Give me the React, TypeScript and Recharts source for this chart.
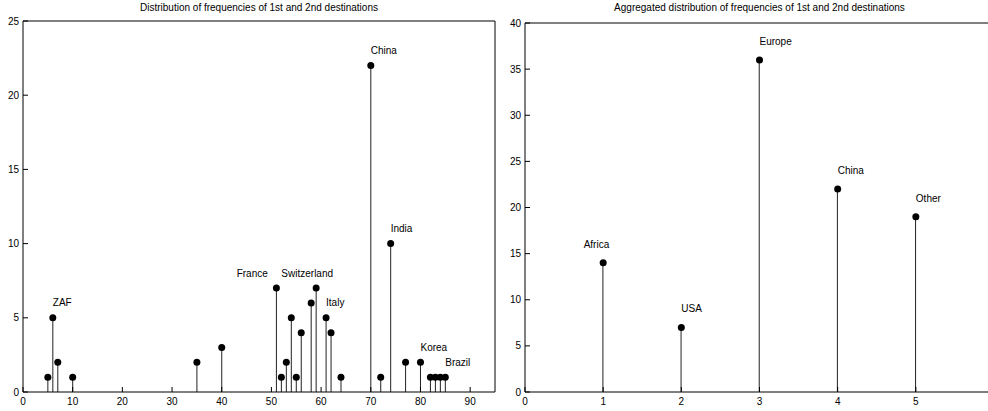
import { ComposedChart, Bar, Scatter, XAxis, YAxis } from "recharts";

// left panel: destination index vs frequency
const destX = [5, 6, 7, 10, 35, 40, 51, 52, 53, 54, 55, 56, 58, 59, 61, 62, 64, 70, 72, 74, 77, 80, 82, 83, 84, 85];
const destFreq = [1, 5, 2, 1, 2, 3, 7, 1, 2, 5, 1, 4, 6, 7, 5, 4, 1, 22, 1, 10, 2, 2, 1, 1, 1, 1];
const destNames = ["ZAF", "France", "Switzerland", "Italy", "China", "India", "Korea", "Brazil"];
const destNameX = [6, 43, 52, 61, 70, 74, 80, 85];
const destNameY = [6, 8, 8, 6, 23, 11, 3, 2];
const destXTicks = [0, 10, 20, 30, 40, 50, 60, 70, 80, 90];
const destYTicks = [0, 5, 10, 15, 20, 25];

// right panel: aggregated by region
const regionX = [1, 2, 3, 4, 5];
const regionFreq = [14, 7, 36, 22, 19];
const regionNames = ["Africa", "USA", "Europe", "China", "Other"];
const regionNameX = [0.75, 2, 3, 4, 5];
const regionNameY = [16, 9, 38, 24, 21];
const regionXTicks = [0, 1, 2, 3, 4, 5];
const regionYTicks = [0, 5, 10, 15, 20, 25, 30, 35, 40];

const FONT = "'Liberation Sans', Arial, sans-serif";
const tickStyle = { fontSize: 10, fill: "#000", fontFamily: FONT };
const axisLine = { stroke: "#000", strokeWidth: 1 };

const Dot = (p: any) => <circle cx={p.cx} cy={p.cy} r={3.5} fill="#000" />;
const Name = (p: any) => (
  <text x={p.cx} y={p.cy} dominantBaseline="central" fontSize={10} fontFamily={FONT} fill="#000">
    {p.payload.name}
  </text>
);

interface StemProps {
  xs: number[];
  ys: number[];
  names: string[];
  nameX: number[];
  nameY: number[];
  xDomain: [number, number];
  yDomain: [number, number];
  xTicks: number[];
  yTicks: number[];
  width: number;
  top: number;
  yAxisWidth: number;
}

function StemChart(props: StemProps) {
  const data = props.xs.map((x, i) => ({ x, y: props.ys[i] }));
  const labels = props.names.map((name, i) => ({ x: props.nameX[i], y: props.nameY[i], name }));
  return (
    <ComposedChart width={props.width} height={411} data={data} margin={{ top: props.top, right: 0, bottom: 0, left: 0 }}>
      <XAxis
        xAxisId="b"
        dataKey="x"
        type="number"
        domain={props.xDomain}
        ticks={props.xTicks}
        interval={0}
        height={19}
        tickSize={-5}
        tickMargin={11}
        tick={tickStyle}
        axisLine={axisLine}
        tickLine={axisLine}
        allowDataOverflow
      />
      <XAxis
        xAxisId="t"
        orientation="top"
        dataKey="x"
        type="number"
        domain={props.xDomain}
        ticks={props.xTicks}
        interval={0}
        height={1}
        tickSize={-5}
        tick={false}
        axisLine={axisLine}
        tickLine={axisLine}
        allowDataOverflow
      />
      <YAxis
        yAxisId="l"
        type="number"
        domain={props.yDomain}
        ticks={props.yTicks}
        interval={0}
        width={props.yAxisWidth}
        tickSize={-5}
        tickMargin={9}
        tick={tickStyle}
        axisLine={axisLine}
        tickLine={axisLine}
        allowDataOverflow
      />
      <YAxis
        yAxisId="r"
        orientation="right"
        type="number"
        domain={props.yDomain}
        ticks={props.yTicks}
        interval={0}
        width={1}
        tickSize={-5}
        tick={false}
        axisLine={axisLine}
        tickLine={axisLine}
        allowDataOverflow
      />
      <Bar xAxisId="b" yAxisId="l" dataKey="y" barSize={1} fill="#222" isAnimationActive={false} />
      <Scatter xAxisId="b" yAxisId="l" dataKey="y" shape={Dot} isAnimationActive={false} />
      <Scatter xAxisId="b" yAxisId="l" data={labels} dataKey="y" shape={Name} isAnimationActive={false} />
    </ComposedChart>
  );
}

const titleStyle: any = {
  position: "absolute",
  top: 2,
  fontSize: 10,
  lineHeight: "12px",
  fontFamily: FONT,
  textAlign: "center",
  color: "#000",
};

export default function App() {
  return (
    <div style={{ position: "fixed", left: 0, top: 0, width: 988, height: 411, overflow: "hidden", background: "#fff" }}>
      <div style={{ ...titleStyle, left: 23, width: 472 }}>Distribution of frequencies of 1st and 2nd destinations</div>
      <div style={{ ...titleStyle, left: 525, width: 469 }}>Aggregated distribution of frequencies of 1st and 2nd destinations</div>
      <div style={{ position: "absolute", left: 0, top: 0 }}>
        <StemChart
          xs={destX}
          ys={destFreq}
          names={destNames}
          nameX={destNameX}
          nameY={destNameY}
          xDomain={[0, 95]}
          yDomain={[0, 25]}
          xTicks={destXTicks}
          yTicks={destYTicks}
          width={496}
          top={20}
          yAxisWidth={23}
        />
      </div>
      <div style={{ position: "absolute", left: 500, top: 0 }}>
        <StemChart
          xs={regionX}
          ys={regionFreq}
          names={regionNames}
          nameX={regionNameX}
          nameY={regionNameY}
          xDomain={[0, 6]}
          yDomain={[0, 40]}
          xTicks={regionXTicks}
          yTicks={regionYTicks}
          width={495}
          top={22}
          yAxisWidth={25}
        />
      </div>
    </div>
  );
}
